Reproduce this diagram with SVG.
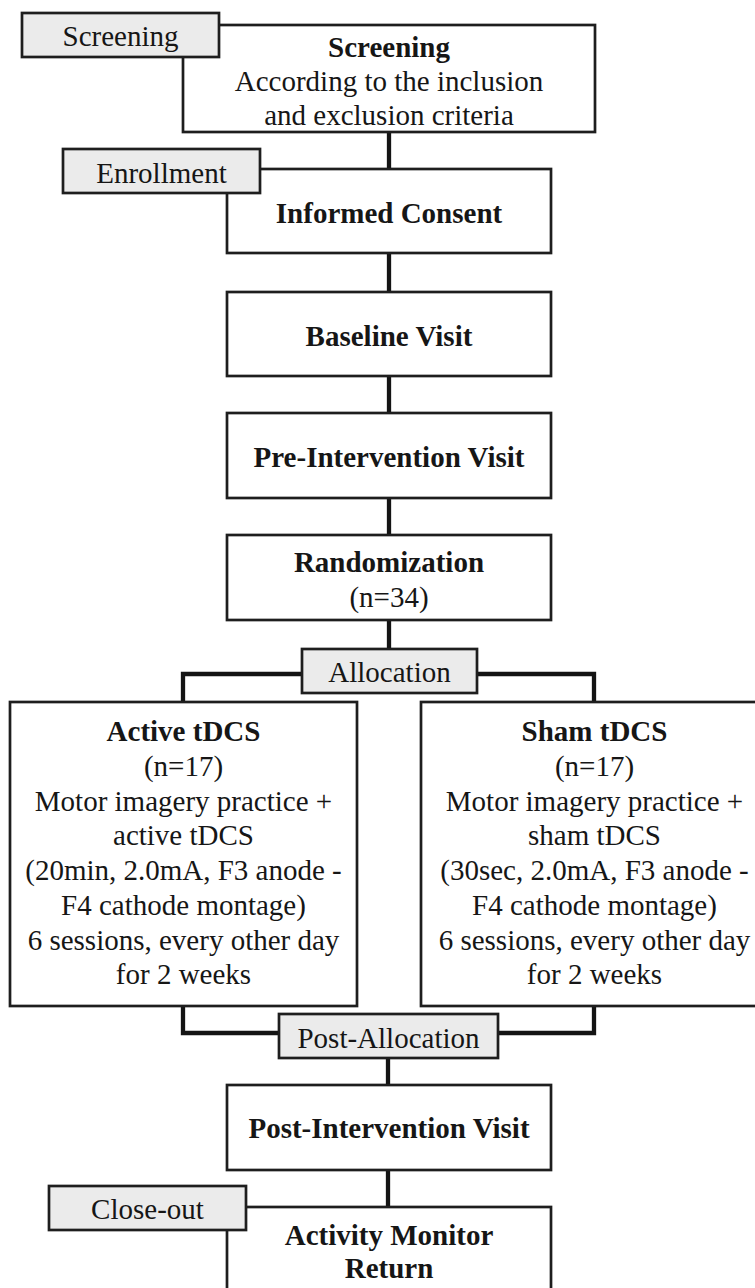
<svg xmlns="http://www.w3.org/2000/svg" width="755" height="1288" viewBox="0 0 755 1288">
<style>
  .box { fill: #ffffff; stroke: #1e1e1e; stroke-width: 2.7; }
  .tag { fill: #ebebeb; stroke: #1e1e1e; stroke-width: 2.7; }
  .conn { fill: none; stroke: #141414; stroke-width: 4.3; stroke-linejoin: miter; stroke-linecap: butt; }
  text { font-family: "Liberation Serif", "Times New Roman", serif; font-size: 29px; fill: #161616; text-anchor: middle; }
  .b { font-weight: bold; }
</style>
<rect width="755" height="1288" fill="#ffffff"/>
<g id="connectors">
  <line class="conn" x1="389" y1="132" x2="389" y2="169"/>
  <line class="conn" x1="389" y1="253" x2="389" y2="292"/>
  <line class="conn" x1="389" y1="376" x2="389" y2="413"/>
  <line class="conn" x1="389" y1="498" x2="389" y2="535"/>
  <line class="conn" x1="389" y1="620" x2="389" y2="649"/>
  <polyline class="conn" points="302,674 183,674 183,702"/>
  <polyline class="conn" points="477,674 594,674 594,702"/>
  <polyline class="conn" points="183,1006 183,1033 279,1033"/>
  <polyline class="conn" points="594,1006 594,1033 498,1033"/>
  <line class="conn" x1="388" y1="1058" x2="388" y2="1085"/>
  <line class="conn" x1="388" y1="1170" x2="388" y2="1207"/>
</g>
<g id="screening">
  <rect class="box" x="183" y="25" width="412" height="107"/>
  <text class="b" x="389" y="57">Screening</text>
  <text x="389" y="91">According to the inclusion</text>
  <text x="389" y="125">and exclusion criteria</text>
</g>
<g id="tag-screening">
  <rect class="tag" x="22" y="13" width="197" height="44"/>
  <text x="120.5" y="46">Screening</text>
</g>
<g id="consent">
  <rect class="box" x="227" y="169" width="324" height="84"/>
  <text class="b" x="389" y="223">Informed Consent</text>
</g>
<g id="tag-enrollment">
  <rect class="tag" x="63" y="149" width="197" height="44"/>
  <text x="161.5" y="183">Enrollment</text>
</g>
<g id="baseline">
  <rect class="box" x="227" y="292" width="324" height="84"/>
  <text class="b" x="389" y="346">Baseline Visit</text>
</g>
<g id="pre-intervention">
  <rect class="box" x="227" y="413" width="324" height="85"/>
  <text class="b" x="389" y="467">Pre-Intervention Visit</text>
</g>
<g id="randomization">
  <rect class="box" x="227" y="535" width="324" height="85"/>
  <text class="b" x="389" y="572">Randomization</text>
  <text x="389" y="607">(n=34)</text>
</g>
<g id="tag-allocation">
  <rect class="tag" x="302" y="649" width="175" height="44"/>
  <text x="389.5" y="682">Allocation</text>
</g>
<g id="active">
  <rect class="box" x="10" y="702" width="347" height="304"/>
  <text class="b" x="183.5" y="741">Active tDCS</text>
  <text x="183.5" y="776">(n=17)</text>
  <text x="183.5" y="811">Motor imagery practice +</text>
  <text x="183.5" y="845">active tDCS</text>
  <text x="183.5" y="880">(20min, 2.0mA, F3 anode -</text>
  <text x="183.5" y="915">F4 cathode montage)</text>
  <text x="183.5" y="950">6 sessions, every other day</text>
  <text x="183.5" y="984">for 2 weeks</text>
</g>
<g id="sham">
  <rect class="box" x="421" y="702" width="347" height="304"/>
  <text class="b" x="594.5" y="741">Sham tDCS</text>
  <text x="594.5" y="776">(n=17)</text>
  <text x="594.5" y="811">Motor imagery practice +</text>
  <text x="594.5" y="845">sham tDCS</text>
  <text x="594.5" y="880">(30sec, 2.0mA, F3 anode -</text>
  <text x="594.5" y="915">F4 cathode montage)</text>
  <text x="594.5" y="950">6 sessions, every other day</text>
  <text x="594.5" y="984">for 2 weeks</text>
</g>
<g id="tag-post-allocation">
  <rect class="tag" x="279" y="1014" width="219" height="44"/>
  <text x="388.5" y="1048">Post-Allocation</text>
</g>
<g id="post-intervention">
  <rect class="box" x="227" y="1085" width="324" height="85"/>
  <text class="b" x="389" y="1138">Post-Intervention Visit</text>
</g>
<g id="activity-monitor">
  <rect class="box" x="227" y="1207" width="324" height="100"/>
  <text class="b" x="389" y="1245">Activity Monitor</text>
  <text class="b" x="389" y="1278">Return</text>
</g>
<g id="tag-close-out">
  <rect class="tag" x="49" y="1186" width="197" height="44"/>
  <text x="147.5" y="1219">Close-out</text>
</g>
</svg>
